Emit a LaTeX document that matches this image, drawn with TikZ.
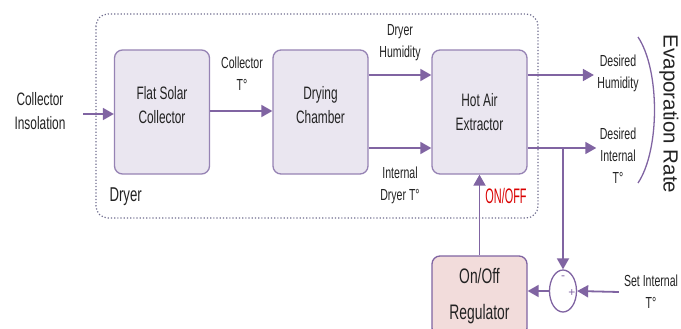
\documentclass[tikz,border=0pt]{standalone}
\usepackage{fontspec}
\setmainfont{Liberation Sans}
\newfontfamily\narrowfont[FakeStretch=0.66]{Liberation Sans}
\newfontfamily\onofffont[FakeStretch=0.52]{Liberation Sans}
\usetikzlibrary{arrows.meta,shapes.geometric}
\definecolor{flowpurple}{HTML}{8064A2}
\definecolor{boxline}{HTML}{9683B4}
\definecolor{boxfill}{HTML}{EAE6F0}
\definecolor{regfill}{HTML}{F2DCDB}
\definecolor{frame}{HTML}{6E6C8E}
\definecolor{ink}{HTML}{222222}

\begin{document}
\begin{tikzpicture}[x=1pt,y=-1pt,
  block/.style={draw=boxline,fill=boxfill,line width=1.3pt,rounded corners=8pt,minimum width=95pt,minimum height=124pt,align=center,text=ink,font=\narrowfont\fontsize{18}{24}\selectfont},
  flow/.style={-{Triangle[length=11pt,width=12pt]}, line width=1.8pt, draw=flowpurple},
  lbl/.style={align=center,text=ink,font=\narrowfont\fontsize{16}{22}\selectfont}]
\useasboundingbox (0,0) rectangle (681,329);
\draw[frame, dotted, line width=1.2pt, rounded corners=12pt] (96,14) rectangle (538,218);
\node[block, text depth=14pt] (solar) at (162,112) {Flat Solar\\Collector};
\node[block, text depth=14pt] (chamber) at (320.5,112) {Drying\\Chamber};
\node[block] (extractor) at (479.5,112) {Hot Air\\Extractor};
\node[block, fill=regfill, draw=flowpurple, minimum height=80pt, font=\narrowfont\fontsize{21}{36}\selectfont] (regulator) at (479.5,296) {On/Off\\Regulator};
\node[draw=flowpurple, line width=1.3pt, ellipse, minimum width=27pt, minimum height=42pt, inner sep=0pt] (sum) at (563,291) {};
\node[text=flowpurple, font=\fontsize{12}{12}\selectfont] (minus) at (563,278) {-};
\node[text=flowpurple, font=\fontsize{12}{12}\selectfont] (plus) at (572,293) {+};
% labels
\node[lbl, font=\narrowfont\fontsize{18}{24}\selectfont] (insol) at (40,111) {Collector\\Insolation};
\node[lbl] (colT) at (242,74) {Collector\\T°};
\node[lbl] (dhum) at (400,43) {Dryer\\Humidity};
\node[lbl] (dint) at (400,185) {Internal\\Dryer T°};
\node[lbl] (desHum) at (618,73) {Desired\\Humidity};
\node[lbl] (desInt) at (618,156) {Desired\\Internal\\T°};
\node[lbl, inner sep=5pt] (setT) at (651,292) {Set Internal\\T°};
\node[text=ink, font=\narrowfont\fontsize{20}{24}\selectfont, anchor=west] (dryer) at (106,197) {Dryer};
\node[text=red!85!black, font=\onofffont\fontsize{21}{24}\selectfont] (onoff) at (506,196) {ON/OFF};
\node[text=ink, font=\fontsize{20.5}{24}\selectfont, rotate=-90] (evap) at (669,114) {Evaporation Rate};
\coordinate (insolin) at (83,114);
% connectors
\draw[flow] (insolin) -- (insolin -| solar.west);
\draw[flow] (solar.east |- 0,111) -- (chamber.west |- 0,111);
\draw[flow] ([yshift=37pt]chamber.east) -- ([yshift=37pt]extractor.west);
\draw[flow] ([yshift=-36pt]chamber.east) -- ([yshift=-36pt]extractor.west);
\draw[flow] ([yshift=37pt]extractor.east) coordinate (hout) -- (hout -| desHum.west);
\draw[flow] ([yshift=-36pt]extractor.east) coordinate (tout) -- (tout -| desInt.west);
\draw[flow] (tout -| sum.north) -- (sum.north);
\draw[flow] (setT.west) -- (sum.east);
\draw[flow] (sum.west) -- (regulator.east |- sum.west);
\draw[flow] (regulator.north) -- (extractor.south);
\draw[flowpurple, line width=1.3pt] (638,37) .. controls (660,70) and (660,150) .. (638,183);
\end{tikzpicture}
\end{document}
